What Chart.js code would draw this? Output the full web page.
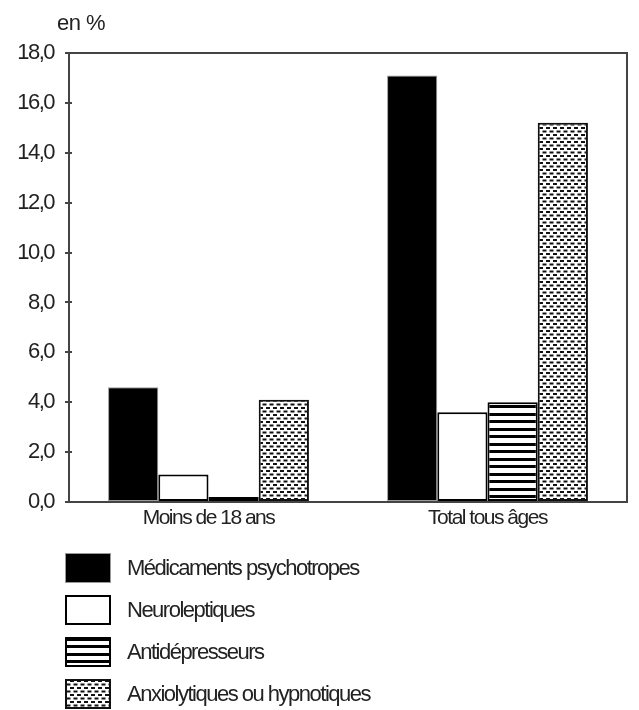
<!DOCTYPE html>
<html lang="fr">
<head>
<meta charset="utf-8">
<title>Consommation de médicaments psychotropes</title>
<script src="https://cdn.jsdelivr.net/npm/chart.js@4/dist/chart.umd.min.js"></script>
<style>
  html, body { margin: 0; padding: 0; background: #fff; }
  #wrap { width: 639px; height: 710px; position: relative; }
</style>
</head>
<body>
<div id="wrap"><canvas id="chart"></canvas></div>
<script>
// Données (en %)
const categories = ['Moins de 18 ans', 'Total tous âges'];
const psychotropes = [4.6, 17.1];
const neuroleptiques = [1.1, 3.6];
const antidepresseurs = [0.2, 4.0];
const anxiolytiques = [4.1, 15.2];
const seriesLabels = [
    'Médicaments psychotropes',
    'Neuroleptiques',
    'Antidépresseurs',
    'Anxiolytiques ou hypnotiques'
];
const yMin = 0;
const yMax = 18;
const yStep = 2;
const unitLabel = 'en %';

const FONT = "'Liberation Sans Narrow', 'Arial Narrow', 'Liberation Sans', sans-serif";
const TEXT = '#222';
const FRAME = '#444';
const SPACING = '-1.5px'; // le texte d'origine est très serré

// motifs de remplissage
function stripes() {
    const c = document.createElement('canvas');
    c.width = 8; c.height = 15;
    const g = c.getContext('2d');
    g.fillStyle = '#fff';
    g.fillRect(0, 0, 8, 15);
    g.fillStyle = '#000';
    g.fillRect(0, 0, 8, 3);
    g.fillRect(0, 8, 8, 3);
    return g.createPattern(c, 'repeat');
}

function dots() {
    const c = document.createElement('canvas');
    c.width = 7; c.height = 7;
    const g = c.getContext('2d');
    g.fillStyle = '#fff';
    g.fillRect(0, 0, 7, 7);
    g.fillStyle = '#111';
    g.fillRect(0, 1, 4, 2);
    g.fillRect(3.5, 4.5, 3.5, 2);
    g.fillRect(0, 4.5, 0.5, 2);
    return g.createPattern(c, 'repeat');
}

const fmt = v => v.toFixed(1).replace('.', ',');

// resserre le texte dessiné par Chart.js
const spacingPlugin = {
    id: 'spacing',
    beforeLayout(chart) { chart.ctx.letterSpacing = SPACING; },
    beforeDraw(chart) { chart.ctx.letterSpacing = SPACING; }
};

// cadre + petits traits intérieurs sur l'axe des y
const framePlugin = {
    id: 'frame',
    afterDraw(chart) {
        const { ctx, chartArea: a, scales: { y } } = chart;
        ctx.save();
        ctx.strokeStyle = FRAME;
        ctx.lineWidth = 2;
        ctx.strokeRect(a.left, a.top, a.right - a.left, a.bottom - a.top);
        ctx.beginPath();
        y.ticks.forEach(t => {
            const py = Math.round(y.getPixelForValue(t.value));
            ctx.moveTo(a.left, py);
            ctx.lineTo(a.left + 3, py);
        });
        ctx.stroke();

        ctx.fillStyle = TEXT;
        ctx.font = '22px ' + FONT;
        ctx.letterSpacing = '-0.5px';
        ctx.textBaseline = 'middle';
        ctx.textAlign = 'left';
        ctx.fillText(unitLabel, 57, 24);
        ctx.restore();
    }
};

// légende verticale sous le graphique
const legendPlugin = {
    id: 'vlegend',
    afterDraw(chart) {
        const { ctx } = chart;
        ctx.save();
        chart.data.datasets.forEach((ds, i) => {
            const cy = 568 + i * 42;
            const x = 65, w = 46, h = 30, top = cy - h / 2;
            ctx.fillStyle = ds.backgroundColor;
            ctx.fillRect(x, top, w, h);
            ctx.lineWidth = ds.borderWidth;
            ctx.strokeStyle = ds.borderColor;
            const bw = ds.borderWidth / 2;
            ctx.strokeRect(x + bw, top + bw, w - 2 * bw, h - 2 * bw);
            ctx.fillStyle = TEXT;
            ctx.font = '22px ' + FONT;
            ctx.letterSpacing = SPACING;
            ctx.textBaseline = 'middle';
            ctx.textAlign = 'left';
            ctx.fillText(ds.label, 127, cy + 1);
        });
        ctx.restore();
    }
};

document.addEventListener('DOMContentLoaded', () => {
    const ctx = document.getElementById('chart').getContext('2d');

    new Chart(ctx, {
        type: 'bar',
        data: {
            labels: categories,
            datasets: [
                {
                    label: seriesLabels[0],
                    data: psychotropes,
                    backgroundColor: '#000',
                    borderColor: '#999',
                    borderWidth: 1
                },
                {
                    label: seriesLabels[1],
                    data: neuroleptiques,
                    backgroundColor: '#fff',
                    borderColor: '#000',
                    borderWidth: 2
                },
                {
                    label: seriesLabels[2],
                    data: antidepresseurs,
                    backgroundColor: stripes(),
                    borderColor: '#000',
                    borderWidth: 2
                },
                {
                    label: seriesLabels[3],
                    data: anxiolytiques,
                    backgroundColor: dots(),
                    borderColor: '#111',
                    borderWidth: 2
                }
            ]
        },
        options: {
            responsive: true,
            maintainAspectRatio: false,
            animation: false,
            layout: {
                padding: { left: 0, top: 53, right: 12, bottom: 168 }
            },
            datasets: {
                bar: {
                    categoryPercentage: 0.72,
                    barPercentage: 1,
                    borderSkipped: false
                }
            },
            plugins: {
                legend: { display: false },
                tooltip: { enabled: false }
            },
            scales: {
                x: {
                    grid: { display: false, drawTicks: false, tickLength: 0 },
                    border: { display: true, color: FRAME, width: 2 },
                    ticks: {
                        color: TEXT,
                        padding: 4,
                        font: { family: FONT, size: 21 }
                    },
                    afterFit(scale) { scale.height = 40; }
                },
                y: {
                    min: yMin,
                    max: yMax,
                    grid: {
                        drawOnChartArea: false,
                        color: FRAME,
                        lineWidth: 2,
                        tickLength: 4
                    },
                    border: { display: true, color: FRAME, width: 2 },
                    ticks: {
                        stepSize: yStep,
                        color: TEXT,
                        padding: 11,
                        font: { family: FONT, size: 22 },
                        callback: v => fmt(v)
                    },
                    afterFit(scale) { scale.width = 69; }
                }
            }
        },
        plugins: [spacingPlugin, framePlugin, legendPlugin]
    });
});
</script>
</body>
</html>
